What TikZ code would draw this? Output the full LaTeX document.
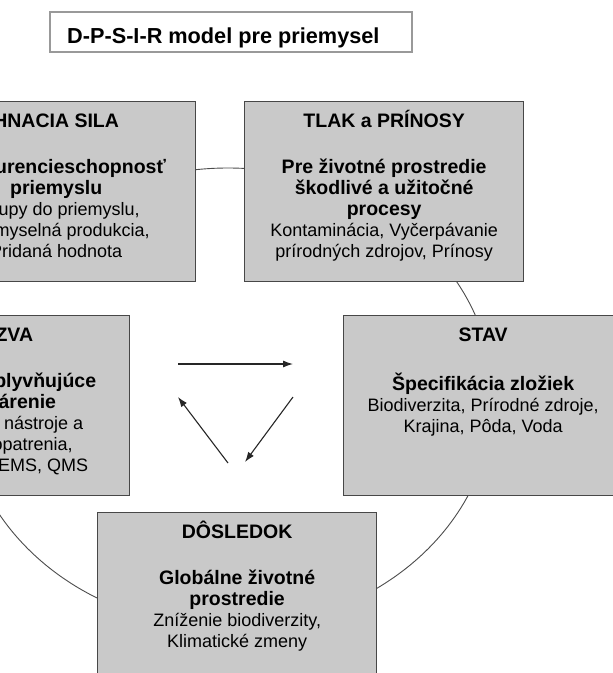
\documentclass[tikz,border=0pt]{standalone}
\usepackage{fontspec}
\setmainfont{Liberation Sans}
\usetikzlibrary{arrows.meta}
\newcommand{\boldline}[1]{{\fontsize{19.5}{21}\selectfont\bfseries #1}}
\begin{document}
\begin{tikzpicture}[x=1pt,y=-1pt,
  box/.style={draw=black!72,line width=1.3pt,fill=black!21,minimum width=279pt,minimum height=180pt,inner sep=0pt,anchor=north west},
  head/.style={anchor=base,inner sep=0pt,font=\fontsize{19.5}{21}\selectfont\bfseries},
  body/.style={anchor=north,align=center,inner sep=0pt,font=\fontsize{18}{21}\selectfont},
  tip/.style={-{Latex[length=10pt,width=7pt]},line width=1.1pt,black!85}]
\useasboundingbox (0,0) rectangle (613,673);
\clip (0,0) rectangle (613,673);
\draw[black!70,line width=0.9pt] (228,398) ellipse [x radius=265pt,y radius=230pt];
\node[draw=black!40,line width=1.5pt,minimum width=362pt,minimum height=40pt] (title) at (231,32) {};
\node[anchor=base west,inner sep=0pt,font=\fontsize{21.7}{24}\selectfont\bfseries] (titletext) at (67,43) {D-P-S-I-R model pre priemysel};
\node[box] (hnacia) at (-84,101) {};
\node[box] (tlak) at (244,101) {};
\node[box] (odozva) at (-150,315) {};
\node[box] (stav) at (343,315) {};
\node[box] (dosledok) at (97,512) {};
\node[head] (hnaciaH) at ([yshift=-26pt]hnacia.north) {HNACIA SILA};
\node[body] (hnaciaB) at ([yshift=-57.6pt]hnacia.north) {\strut\boldline{Konkurencieschopnosť}\\\boldline{priemyslu}\\Vstupy do priemyslu,\\Priemyselná produkcia,\\Pridaná hodnota};
\node[head] (tlakH) at ([yshift=-26pt]tlak.north) {TLAK a PRÍNOSY};
\node[body] (tlakB) at ([yshift=-57.6pt]tlak.north) {\strut\boldline{Pre životné prostredie}\\\boldline{škodlivé a užitočné}\\\boldline{procesy}\\Kontaminácia, Vyčerpávanie\\prírodných zdrojov, Prínosy};
\node[head] (odozvaH) at ([xshift=2pt,yshift=-26pt]odozva.north) {ODOZVA};
\node[body] (odozvaB) at ([xshift=2pt,yshift=-57.6pt]odozva.north) {\strut\boldline{Nástroje ovplyvňujúce}\\\boldline{hospodárenie}\\Ekonomické nástroje a\\technické opatrenia,\\EMAS, ISO, EMS, QMS};
\node[head] (stavH) at ([yshift=-26pt]stav.north) {STAV};
\node[body] (stavB) at ([yshift=-57.6pt]stav.north) {\strut\boldline{Špecifikácia zložiek}\\Biodiverzita, Prírodné zdroje,\\Krajina, Pôda, Voda};
\node[head] (dosledokH) at ([yshift=-26pt]dosledok.north) {DÔSLEDOK};
\node[body] (dosledokB) at ([yshift=-57.6pt]dosledok.north) {\strut\boldline{Globálne životné}\\\boldline{prostredie}\\Zníženie biodiverzity,\\Klimatické zmeny};
\coordinate (a1) at (178,364);
\coordinate (a2) at (293,364);
\coordinate (b1) at (293,397);
\coordinate (b2) at (245,462);
\coordinate (c1) at (228,463);
\coordinate (c2) at (178,397);
\draw[tip] (a1) -- (a2);
\draw[tip] (b1) -- (b2);
\draw[tip] (c1) -- (c2);
\end{tikzpicture}
\end{document}
